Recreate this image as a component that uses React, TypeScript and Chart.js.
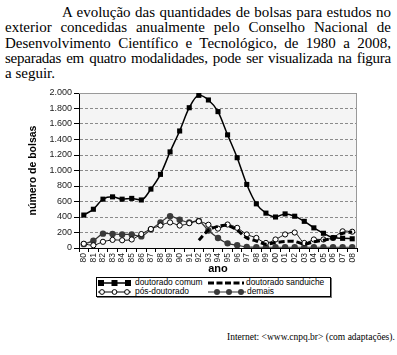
import React, { useEffect, useRef } from 'react';
import { Chart, registerables } from 'chart.js';

Chart.register(...registerables);

const years = ['80','81','82','83','84','85','86','87','88','89','90','91','92','93','94','95','96','97','98','99','00','01','02','03','04','05','06','07','08'];

const doutoradoComum = [425, 500, 630, 660, 630, 640, 620, 760, 950, 1240, 1510, 1810, 1970, 1910, 1760, 1460, 1165, 820, 570, 450, 400, 440, 410, 344, 260, 190, 132, 125, 119];

const doutoradoSanduiche = [null, null, null, null, null, null, null, null, null, null, null, null, 100, 230, 280, 290, 230, 130, 90, 50, 70, 85, 85, 50, 80, 100, 130, 190, 205];

const posDoutorado = [55, 35, 80, 105, 100, 110, 180, 245, 290, 330, 290, 320, 345, 300, 250, 303, 260, 175, 130, 65, 110, 175, 200, 65, 110, 110, 130, 215, 210];

const demais = [50, 95, 185, 180, 175, 175, 150, 240, 330, 410, 365, 330, 350, 225, 130, 60, 35, 15, 10, 10, 10, 10, 10, 10, 10, 10, 10, 10, 10];

const seriesNames = ['doutorado comum', 'doutorado sanduiche', 'pós-doutorado', 'demais'];

const paragraphLines = [
  'A evolução das quantidades de bolsas para estudos no',
  'exterior concedidas anualmente pelo Conselho Nacional de',
  'Desenvolvimento Científico e Tecnológico, de 1980 a 2008,',
  'separadas em quatro modalidades, pode ser visualizada na figura',
  'a seguir.',
];

const sourceText = 'Internet: <www.cnpq.br> (com adaptações).';

const SANS = '"Liberation Sans", Arial, sans-serif';
const SERIF = '"Liberation Serif", "Times New Roman", serif';

const plotFrame = {
  id: 'plotFrame',
  beforeDraw(chart: any) {
    const { ctx, chartArea } = chart;
    if (!chartArea) return;
    ctx.save();
    ctx.fillStyle = '#f4f4f4';
    ctx.fillRect(chartArea.left, chartArea.top, chartArea.right - chartArea.left, chartArea.bottom - chartArea.top);
    ctx.restore();
  },
  beforeDatasetsDraw(chart: any) {
    const { ctx, chartArea } = chart;
    ctx.save();
    ctx.strokeStyle = '#999';
    ctx.lineWidth = 1;
    ctx.beginPath();
    ctx.moveTo(chartArea.left, chartArea.top + 0.5);
    ctx.lineTo(chartArea.right - 0.5, chartArea.top + 0.5);
    ctx.lineTo(chartArea.right - 0.5, chartArea.bottom);
    ctx.stroke();
    ctx.restore();
  },
};

function ChartBox() {
  const ref = useRef<HTMLCanvasElement | null>(null);
  useEffect(() => {
    if (!ref.current) return;
    const chart = new Chart(ref.current, {
      type: 'line',
      data: {
        labels: years,
        datasets: [
          {
            label: seriesNames[0],
            data: doutoradoComum,
            borderColor: '#000',
            backgroundColor: '#000',
            borderWidth: 1.5,
            pointStyle: 'rect',
            pointRadius: 3.6,
            pointBorderWidth: 0,
            pointBackgroundColor: '#000',
            cubicInterpolationMode: 'monotone',
          },
          {
            label: seriesNames[1],
            data: doutoradoSanduiche,
            borderColor: '#000',
            borderWidth: 3,
            borderDash: [6, 3],
            pointRadius: 0,
            tension: 0.3,
            spanGaps: false,
          },
          {
            label: seriesNames[2],
            data: posDoutorado,
            borderColor: '#111',
            borderWidth: 1,
            pointStyle: 'circle',
            pointRadius: 2.6,
            pointBorderWidth: 1,
            pointBorderColor: '#000',
            pointBackgroundColor: '#fff',
            tension: 0.3,
          },
          {
            label: seriesNames[3],
            data: demais,
            borderColor: '#333',
            borderWidth: 1.2,
            pointStyle: 'circle',
            pointRadius: 3.2,
            pointBorderWidth: 0,
            pointBackgroundColor: '#3a3a3a',
            tension: 0.3,
          },
        ],
      },
      options: {
        animation: false,
        responsive: false,
        devicePixelRatio: 1,
        layout: { padding: { top: 13, right: 40, left: 0, bottom: 0 } },
        plugins: {
          legend: { display: false },
          tooltip: { enabled: false },
        },
        scales: {
          x: {
            offset: true,
            grid: {
              offset: true,
              drawOnChartArea: false,
              drawTicks: true,
              tickLength: 4,
              tickColor: '#000',
            },
            border: { display: true, color: '#000', width: 1 },
            ticks: {
              minRotation: 90,
              maxRotation: 90,
              autoSkip: false,
              padding: 1,
              color: '#222',
              font: { family: SANS, size: 8.5 },
            },
            title: {
              display: true,
              text: 'ano',
              color: '#000',
              font: { family: SANS, size: 11, weight: 'bold' },
              padding: { top: 0, bottom: 0 },
            },
            afterFit(scale: any) {
              scale.height = 28;
            },
          },
          y: {
            min: 0,
            max: 2000,
            grid: {
              color: '#8a8a8a',
              lineWidth: 1,
              drawTicks: true,
              tickLength: 5,
              tickColor: '#000',
              tickBorderDash: [],
            },
            border: { display: true, color: '#000', width: 1, dash: [3, 2] },
            ticks: {
              stepSize: 200,
              padding: 2,
              color: '#222',
              font: { family: SANS, size: 9 },
              callback: (v: any) => Number(v).toLocaleString('de-DE'),
            },
            title: {
              display: true,
              text: 'número de bolsas',
              color: '#000',
              font: { family: SANS, size: 10.5, weight: 'bold' },
              padding: { top: 27, bottom: 0 },
            },
            afterFit(scale: any) {
              scale.width = 79;
            },
          },
        },
      },
      plugins: [plotFrame],
    } as any);
    return () => chart.destroy();
  }, []);
  return <canvas ref={ref} width={397} height={196} style={{ position: 'absolute', left: 0, top: 80, width: 397, height: 196 }} />;
}

function LegendSymbol({ kind }: { kind: number }) {
  if (kind === 0) {
    const w = 33;
    return (
      <svg width={w} height={8} style={{ display: 'block' }}>
        <line x1={0} y1={4} x2={w} y2={4} stroke="#000" strokeWidth={1.5} />
        {[3, 16.5, 30].map((x) => <rect key={x} x={x - 3} y={1} width={6} height={6} fill="#000" />)}
      </svg>
    );
  }
  if (kind === 1) {
    const w = 36;
    return (
      <svg width={w} height={8} style={{ display: 'block' }}>
        <line x1={0} y1={4} x2={w} y2={4} stroke="#000" strokeWidth={3} strokeDasharray="6 2.5" />
      </svg>
    );
  }
  if (kind === 2) {
    const w = 33;
    return (
      <svg width={w} height={8} style={{ display: 'block' }}>
        <line x1={0} y1={4} x2={w} y2={4} stroke="#000" strokeWidth={1} />
        {[4, 16.5, 29].map((x) => <circle key={x} cx={x} cy={4} r={2.4} fill="#fff" stroke="#000" strokeWidth={1} />)}
      </svg>
    );
  }
  const w = 38;
  return (
    <svg width={w} height={8} style={{ display: 'block' }}>
      <line x1={0} y1={4} x2={w} y2={4} stroke="#333" strokeWidth={1.2} />
      {[9, 21, 33].map((x) => <circle key={x} cx={x} cy={4} r={3} fill="#3a3a3a" />)}
    </svg>
  );
}

function Legend() {
  const items = [
    { kind: 0, x: 1, y: 0, gap: 4 },
    { kind: 1, x: 111, y: 0, gap: 2 },
    { kind: 2, x: 1, y: 9, gap: 4 },
    { kind: 3, x: 111, y: 9, gap: 1 },
  ];
  return (
    <div style={{ position: 'absolute', left: 96, top: 277, width: 233, height: 18, border: '1px solid #000', boxShadow: '1px 1px 0 #777', background: '#fff' }}>
      {items.map((it) => (
        <div key={it.kind} style={{ position: 'absolute', left: it.x, top: it.y, height: 9, display: 'flex', alignItems: 'center', whiteSpace: 'nowrap' }}>
          <LegendSymbol kind={it.kind} />
          <span style={{ fontFamily: SANS, fontSize: 8.4, lineHeight: '9px', color: '#000', marginLeft: it.gap }}>{seriesNames[it.kind]}</span>
        </div>
      ))}
    </div>
  );
}

export default function App() {
  return (
    <div style={{ position: 'absolute', left: 0, top: 0, width: 397, height: 355, overflow: 'hidden', background: '#fff' }}>
      <div style={{ position: 'absolute', left: 5, top: 5, width: 386, fontFamily: SERIF, fontSize: 15, lineHeight: '15.25px', color: '#000' }}>
        {paragraphLines.map((line, i) => {
          const last = i === paragraphLines.length - 1;
          const tight = i === 3;
          return (
            <div
              key={i}
              style={{
                textAlign: last ? 'left' : 'justify',
                textAlignLast: last ? 'left' : 'justify',
                textIndent: i === 0 ? 57 : 0,
                whiteSpace: 'nowrap',
                wordSpacing: tight ? '-2.5px' : undefined,
                letterSpacing: tight ? '-0.25px' : undefined,
              }}
            >
              {line}
            </div>
          );
        })}
      </div>
      <ChartBox />
      <Legend />
      <div style={{ position: 'absolute', left: 227, top: 332, fontFamily: SERIF, fontSize: 9.5, lineHeight: '10px', color: '#000', whiteSpace: 'nowrap' }}>
        {sourceText}
      </div>
    </div>
  );
}
